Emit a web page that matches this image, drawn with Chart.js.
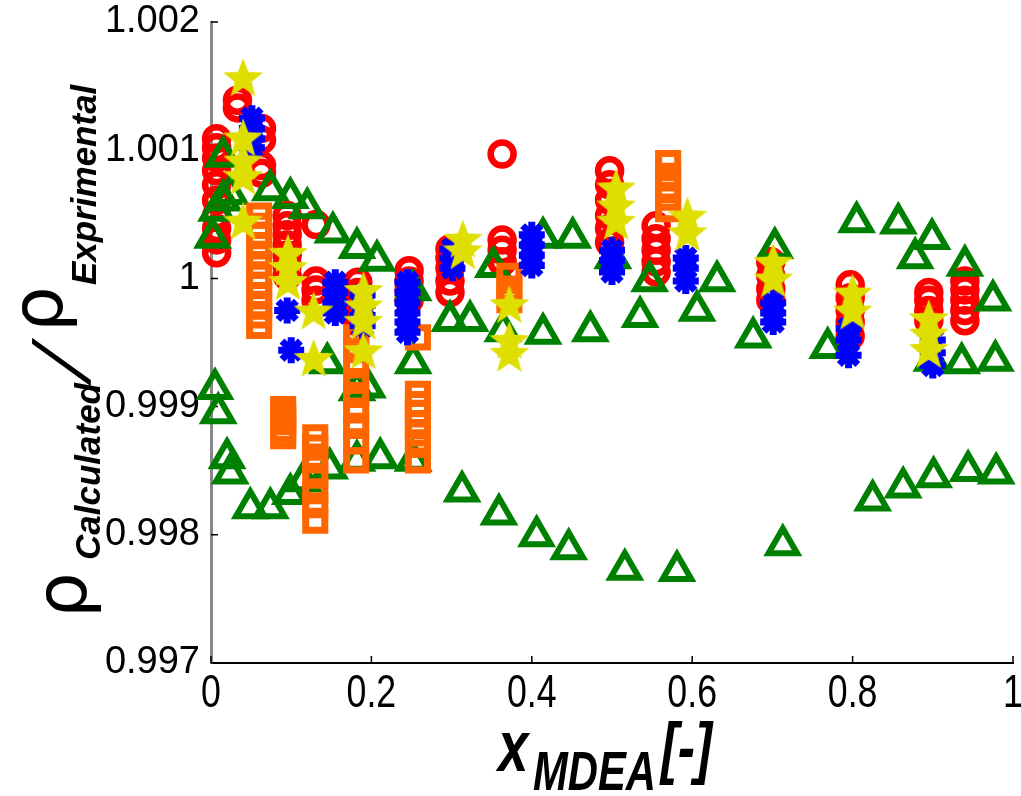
<!DOCTYPE html>
<html>
<head>
<meta charset="utf-8">
<script src="https://cdn.jsdelivr.net/npm/chart.js@4.4.1/dist/chart.umd.min.js"></script>
<style>
  html, body { margin: 0; padding: 0; background: #fff; }
  canvas { display: block; }
</style>
</head>
<body>
<canvas id="chart" width="1021" height="796"></canvas>
<script>
// tick labels
const xTicks = [0, 0.2, 0.4, 0.6, 0.8, 1];
const yTicks = [0.997, 0.998, 0.999, 1, 1.001, 1.002];

// red circles
const circleX = [0.007, 0.007, 0.007, 0.007, 0.007, 0.007, 0.007, 0.007, 0.007, 0.007,
  0.033, 0.033, 0.063, 0.063, 0.063, 0.063,
  0.095, 0.095, 0.095, 0.095, 0.095, 0.095, 0.095,
  0.131, 0.131, 0.131, 0.131, 0.183, 0.183, 0.183, 0.183, 0.183,
  0.247, 0.247, 0.247, 0.247, 0.298, 0.298, 0.298, 0.298, 0.298,
  0.363, 0.363, 0.363, 0.363, 0.497, 0.497, 0.497, 0.497, 0.497, 0.497,
  0.555, 0.555, 0.555, 0.555, 0.555, 0.698, 0.698, 0.698, 0.698,
  0.797, 0.797, 0.797, 0.797, 0.797, 0.895, 0.895, 0.895, 0.895,
  0.94, 0.94, 0.94, 0.94, 0.94];
const circleY = [1.0002, 1.0003, 1.00039, 1.00049, 1.00061, 1.00073, 1.00084, 1.00094, 1.00102, 1.00109,
  1.00139, 1.00133, 1.00117, 1.00108, 1.00088, 1.00082,
  1.00049, 1.00041, 1.00034, 1.00026, 1.00018, 1.0001, 1.00002,
  1.00042, 0.99998, 0.99991, 0.99983, 0.99997, 0.99989, 0.99981, 0.99973, 0.99966,
  1.00006, 0.99998, 0.99991, 0.99983, 1.00023, 1.00016, 1.00008, 0.99998, 0.99989,
  1.00097, 1.0003, 1.00022, 1.00013, 1.00084, 1.00073, 1.00061, 1.00049, 1.00039, 1.00028,
  1.00041, 1.00031, 1.00022, 1.00013, 1.00005, 1.00013, 1.00002, 0.99992, 0.99983,
  0.99995, 0.99985, 0.99975, 0.99966, 0.99955, 0.99989, 0.99983, 0.99975, 0.99967,
  0.99998, 0.99991, 0.99983, 0.99975, 0.99967];

// blue asterisks
const asteriskX = [0.051, 0.051, 0.051, 0.051, 0.095, 0.1,
  0.155, 0.155, 0.155, 0.155, 0.189, 0.189, 0.189, 0.189,
  0.245, 0.245, 0.245, 0.245, 0.245, 0.245, 0.301, 0.301, 0.301,
  0.4, 0.4, 0.4, 0.4, 0.5, 0.5, 0.5, 0.592, 0.592, 0.592,
  0.701, 0.701, 0.701, 0.795, 0.795, 0.795, 0.9, 0.9, 0.9];
const asteriskY = [1.00125, 1.00117, 1.00109, 1.00102, 0.99975, 0.99944,
  0.99997, 0.99989, 0.99981, 0.99973, 0.99987, 0.99979, 0.99971, 0.99963,
  0.99997, 0.99989, 0.99981, 0.99973, 0.99966, 0.99958, 1.00023, 1.00016, 1.00008,
  1.00034, 1.00026, 1.00018, 1.0001, 1.00022, 1.00014, 1.00005, 1.00016, 1.00008, 0.99998,
  0.99981, 0.99973, 0.99966, 0.99961, 0.99952, 0.9994, 0.99952, 0.99942, 0.99932];

// yellow stars
const starX = [0.04, 0.04, 0.04, 0.04, 0.04, 0.096, 0.096, 0.096, 0.128, 0.128,
  0.19, 0.19, 0.19, 0.19, 0.314, 0.314, 0.372, 0.372, 0.372,
  0.505, 0.505, 0.505, 0.594, 0.594, 0.701, 0.701, 0.8, 0.8, 0.895, 0.895, 0.895];
const starY = [1.00157, 1.0011, 1.00092, 1.0008, 1.00045, 1.0002, 1.00009, 0.99998, 0.99975, 0.99938,
  0.99991, 0.99979, 0.99967, 0.99944, 1.00031, 1.00022, 0.9998, 0.99952, 0.99942,
  1.00071, 1.00057, 1.00045, 1.00049, 1.00036, 1.00013, 1.0, 0.99989, 0.99975, 0.99969, 0.99957, 0.99945];

// orange squares
const squareX = [0.06, 0.06, 0.06, 0.06, 0.06, 0.06, 0.06, 0.06, 0.06, 0.06, 0.06, 0.06,
  0.09, 0.09, 0.09, 0.09, 0.09, 0.13, 0.13, 0.13, 0.13, 0.13, 0.13, 0.13,
  0.181, 0.181, 0.181, 0.181, 0.181, 0.181, 0.181, 0.181, 0.181,
  0.258, 0.258, 0.258, 0.258, 0.258, 0.258, 0.258, 0.258,
  0.372, 0.372, 0.372, 0.57, 0.57, 0.57, 0.57, 0.57];
const squareY = [1.00049, 1.00041, 1.00034, 1.00026, 1.00018, 1.0001, 1.00002, 0.99995, 0.99987, 0.99979, 0.99971, 0.99963,
  0.99898, 0.99893, 0.99888, 0.99882, 0.99877, 0.99876, 0.99868, 0.99858, 0.99846, 0.99834, 0.99823, 0.99811,
  0.99954, 0.99944, 0.99932, 0.9992, 0.99909, 0.99897, 0.99885, 0.99873, 0.99858,
  0.99954, 0.9991, 0.99902, 0.99895, 0.99887, 0.99879, 0.9987, 0.99858,
  1.00002, 0.99992, 0.99983, 1.0009, 1.0008, 1.00071, 1.00063, 1.00054];

// green triangles
const triangleX = [0.005, 0.009, 0.02, 0.024, 0.049, 0.074, 0.099, 0.115, 0.148, 0.182, 0.211, 0.252,
  0.313, 0.359, 0.406, 0.446, 0.516, 0.581, 0.713, 0.825, 0.863, 0.901, 0.944, 0.979,
  0.002, 0.007, 0.015, 0.024, 0.015, 0.074, 0.099, 0.12, 0.152, 0.182, 0.207, 0.252,
  0.298, 0.323, 0.364, 0.414, 0.473, 0.535, 0.606, 0.676, 0.769, 0.899, 0.936, 0.978,
  0.145, 0.182, 0.195, 0.252, 0.352, 0.414, 0.451, 0.501, 0.547, 0.631, 0.703,
  0.805, 0.857, 0.899, 0.878, 0.94, 0.975];
const triangleY = [0.99914, 0.99895, 0.9986, 0.99848, 0.99821, 0.99821, 0.99832, 0.99842, 0.99852, 0.99858, 0.9986, 0.99858,
  0.99834, 0.99816, 0.99799, 0.99789, 0.99773, 0.99772, 0.99792, 0.99827, 0.99837, 0.99845, 0.9985, 0.99848,
  1.00032, 1.00053, 1.00061, 1.00066, 1.00095, 1.00069, 1.00063, 1.00055, 1.00036, 1.00024, 1.00014, 0.99991,
  0.99967, 0.99967, 0.99959, 0.99957, 0.99959, 0.9997, 0.99975, 0.99954, 0.99946, 0.99936, 0.99934, 0.99936,
  0.99934, 0.99913, 0.99915, 0.99934, 1.00009, 1.00032, 1.00032, 1.00016, 0.99998, 0.99998, 1.00024,
  1.00044, 1.00043, 1.00031, 1.00016, 1.0001, 0.99983];

const toPoints = (xs, ys) => xs.map((x, i) => ({ x: x, y: ys[i] }));

// filled five-pointed star used as the yellow marker
function makeStar(size, color) {
  const c = document.createElement('canvas');
  c.width = size;
  c.height = size;
  const g = c.getContext('2d');
  const R = size / 2 - 1, r = R * 0.42;
  g.beginPath();
  for (let i = 0; i < 10; i++) {
    const rad = i % 2 === 0 ? R : r;
    const a = -Math.PI / 2 + i * Math.PI / 5;
    g.lineTo(size / 2 + rad * Math.cos(a), size / 2 + 2 + rad * Math.sin(a));
  }
  g.closePath();
  g.fillStyle = color;
  g.fill();
  return c;
}

// ticks pointing into the plot, and narrow x tick labels
const innerTicks = {
  id: 'innerTicks',
  beforeDatasetsDraw(chart) {
    const { ctx, chartArea: a, scales: { x, y } } = chart;
    ctx.save();
    ctx.strokeStyle = '#000';
    ctx.lineWidth = 1.5;
    ctx.beginPath();
    xTicks.forEach(v => {
      const px = x.getPixelForValue(v);
      ctx.moveTo(px, a.bottom);
      ctx.lineTo(px, a.bottom - 7);
    });
    yTicks.forEach(v => {
      const py = y.getPixelForValue(v);
      ctx.moveTo(a.left, py);
      ctx.lineTo(a.left + 7, py);
    });
    ctx.stroke();

    ctx.fillStyle = '#000';
    ctx.font = '47px "Liberation Sans", Arial, sans-serif';
    ctx.textAlign = 'center';
    ctx.textBaseline = 'alphabetic';
    xTicks.forEach(v => {
      ctx.save();
      ctx.translate(x.getPixelForValue(v), a.bottom + 44);
      ctx.scale(0.76, 1);
      ctx.fillText(String(v), 0, 0);
      ctx.restore();
    });
    ctx.restore();
  }
};

// axis titles with subscripts
const axisTitles = {
  id: 'axisTitles',
  afterDraw(chart) {
    const ctx = chart.ctx;
    const bi = size => 'bold italic ' + size + 'px "Liberation Sans", Arial, sans-serif';
    ctx.save();
    ctx.fillStyle = '#000';
    ctx.textBaseline = 'alphabetic';
    ctx.translate(498, 771);
    ctx.scale(0.76, 1);
    ctx.font = bi(72);
    ctx.fillText('x', 0, 0);
    ctx.font = bi(55);
    ctx.fillText('MDEA', 46, 19);
    ctx.font = bi(68);
    ctx.fillText('[-]', 214, 0);
    ctx.restore();

    ctx.save();
    ctx.fillStyle = '#000';
    ctx.textBaseline = 'alphabetic';
    ctx.translate(86, 618);
    ctx.rotate(-Math.PI / 2);
    ctx.font = '72px "DejaVu Sans", sans-serif';
    ctx.fillText('ρ', 0, 0);
    ctx.font = bi(35);
    ctx.fillText('Calculated', 58, 14);
    ctx.save();
    ctx.translate(232, 4);
    ctx.transform(1, 0, -0.45, 1, 0, 0);
    ctx.font = '80px "Liberation Sans", Arial, sans-serif';
    ctx.fillText('/', 0, 0);
    ctx.restore();
    ctx.font = '72px "DejaVu Sans", sans-serif';
    ctx.fillText('ρ', 286, -24);
    ctx.font = bi(35);
    ctx.fillText('Exprimental', 333, 10);
    ctx.restore();
  }
};

new Chart(document.getElementById('chart'), {
  type: 'scatter',
  data: {
    datasets: [
      {
        label: 'Stars',
        data: toPoints(starX, starY),
        pointStyle: makeStar(44, '#dede00'),
        clip: false
      },
      {
        label: 'Asterisks',
        data: toPoints(asteriskX, asteriskY),
        pointStyle: 'star',
        pointRadius: 13,
        borderColor: '#0000ff',
        backgroundColor: '#0000ff',
        borderWidth: 7,
        clip: false
      },
      {
        label: 'Squares',
        data: toPoints(squareX, squareY),
        pointStyle: 'rect',
        pointRadius: 13.5,
        borderColor: '#ff6600',
        backgroundColor: 'rgba(0,0,0,0)',
        borderWidth: 7,
        clip: false
      },
      {
        label: 'Triangles',
        data: toPoints(triangleX, triangleY),
        pointStyle: 'triangle',
        pointRadius: 16.5,
        borderColor: '#008000',
        backgroundColor: 'rgba(0,0,0,0)',
        borderWidth: 6,
        clip: false
      },
      {
        label: 'Circles',
        data: toPoints(circleX, circleY),
        pointStyle: 'circle',
        pointRadius: 11.5,
        borderColor: '#ff0000',
        backgroundColor: 'rgba(0,0,0,0)',
        borderWidth: 6.5,
        clip: false
      }
    ]
  },
  options: {
    responsive: false,
    animation: false,
    devicePixelRatio: 1,
    layout: { autoPadding: false, padding: { top: 22, right: 8, left: 0, bottom: 0 } },
    plugins: {
      legend: { display: false },
      tooltip: { enabled: false }
    },
    elements: { point: { hoverRadius: 0 } },
    scales: {
      x: {
        type: 'linear',
        min: 0,
        max: 1,
        afterBuildTicks: axis => { axis.ticks = xTicks.map(v => ({ value: v })); },
        afterFit: axis => { axis.height = 133; axis.paddingLeft = 0; axis.paddingRight = 0; },
        grid: { display: true, drawOnChartArea: false, drawTicks: false },
        border: { display: true, color: '#000', width: 2 },
        ticks: { display: false }
      },
      y: {
        type: 'linear',
        min: 0.997,
        max: 1.002,
        afterBuildTicks: axis => { axis.ticks = yTicks.map(v => ({ value: v })); },
        afterFit: axis => { axis.width = 211; axis.paddingTop = 0; axis.paddingBottom = 0; },
        grid: { display: true, drawOnChartArea: false, drawTicks: false },
        border: { display: true, color: '#888', width: 3 },
        ticks: {
          padding: 11,
          color: '#000',
          font: { family: '"Liberation Sans", Arial, sans-serif', size: 38 },
          callback: v => String(parseFloat(v.toFixed(3)))
        }
      }
    }
  },
  plugins: [innerTicks, axisTitles]
});
</script>
</body>
</html>
